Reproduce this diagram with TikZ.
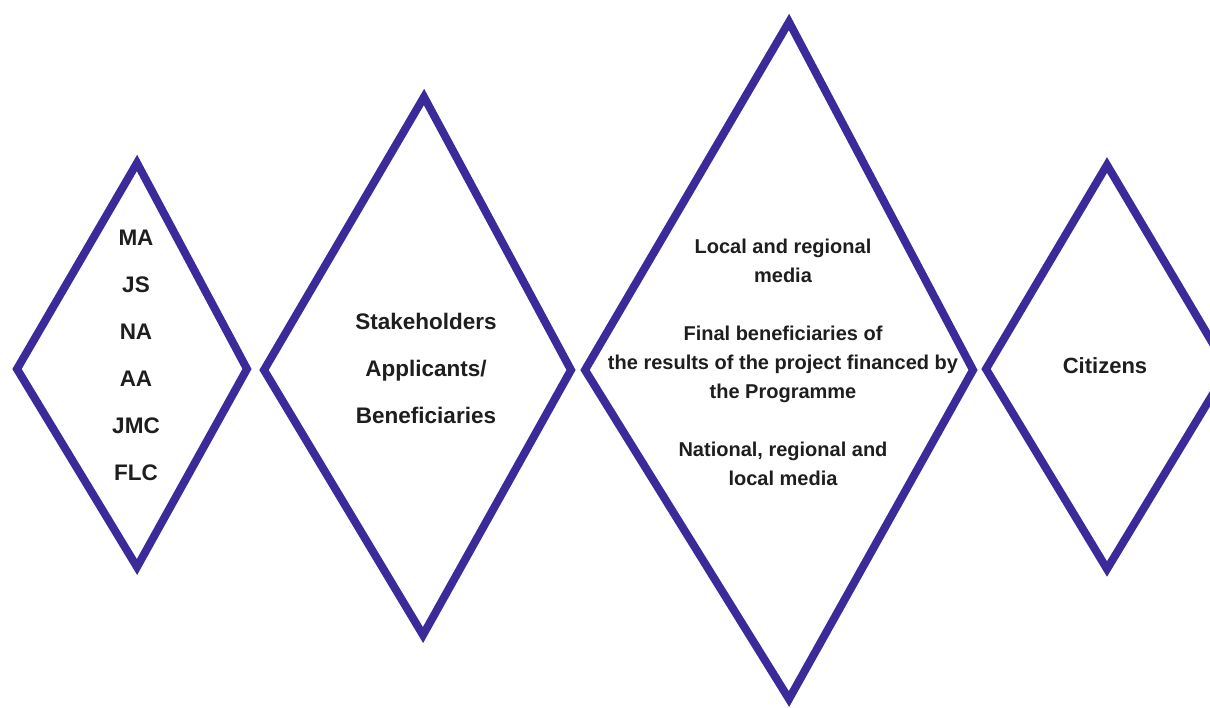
\documentclass[tikz,border=0pt]{standalone}
\usepackage{fontspec}
\setmainfont{Liberation Sans}
\usepackage{xcolor}
\definecolor{rhombblue}{RGB}{58,42,154}
\definecolor{inkgrey}{RGB}{30,30,30}
\tikzset{
  rhomb/.style={draw=rhombblue, line width=8pt, line join=miter, miter limit=10},
  lbl/.style={text=inkgrey, align=center, inner sep=0pt, font=\bfseries\fontsize{20}{29}\selectfont},
  widelbl/.style={lbl, font=\bfseries\fontsize{22.5}{47}\selectfont}
}

\begin{document}
\begin{tikzpicture}[x=1pt,y=-1pt]
  \clip (0,0) rectangle (1210,707);
  \fill[white] (0,0) rectangle (1210,707);
  % four rhombs, left to right
  \draw[rhomb] (17,369)--++(120,-206)--++(110,206)--++(-110,198)--cycle;
  \draw[rhomb] (264,370)--++(160,-273)--++(147,273)--++(-148,265)--cycle;
  \draw[rhomb] (585,370)--++(204,-348)--++(184,348)--++(-184,329)--cycle;
  \draw[rhomb] (986,369)--++(121,-204)--++(121,204)--++(-121,200)--cycle;

  \node[widelbl] (bodies) at (136,355) {MA\\JS\\NA\\AA\\JMC\\FLC};
  \node[widelbl] (stakeholders) at (426,368) {Stakeholders\\Applicants/\\Beneficiaries};
  \node[lbl] (media) at (783,362) {Local and regional\\media\\[29pt]Final beneficiaries of\\the results of the project financed by\\the Programme\\[29pt]National, regional and\\local media};
  \node[lbl, font=\bfseries\fontsize{22}{29}\selectfont] (citizens) at (1105,366) {Citizens};
\end{tikzpicture}
\end{document}
